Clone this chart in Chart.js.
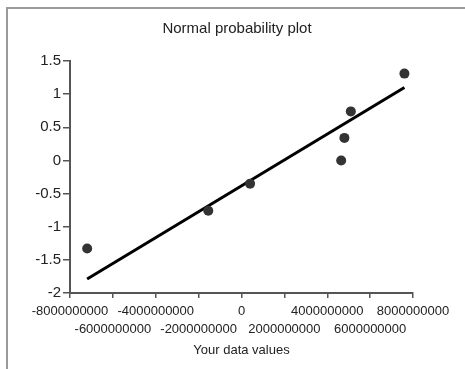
<!DOCTYPE html>
<html>
<head>
<meta charset="utf-8">
<script src="https://cdn.jsdelivr.net/npm/chart.js@4"></script>
<style>
  html, body { margin: 0; padding: 0; background: #fff; }
</style>
</head>
<body>
<canvas id="myChart" width="465" height="369"></canvas>
<script>
// valores
const dataX = [-7200000000, -1550000000, 400000000, 4650000000, 4800000000, 5100000000, 7600000000];
const normalScores = [-1.33, -0.76, -0.35, 0, 0.34, 0.74, 1.31];

// recta de ajuste (extremos)
const fitX = [-7200000000, 7600000000];
const fitY = [-1.79, 1.10];

// ticks
const xTicks = [-8000000000, -6000000000, -4000000000, -2000000000, 0, 2000000000, 4000000000, 6000000000, 8000000000];
const yTicks = [-2, -1.5, -1, -0.5, 0, 0.5, 1, 1.5];

const fontFamily = '"Liberation Sans", Arial, sans-serif';
const textColor = '#222';
const axisColor = '#555';

// marco gris arriba y a la izquierda
const frame = {
  id: 'frame',
  beforeDraw(chart) {
    const c = chart.ctx;
    c.save();
    c.fillStyle = '#fff';
    c.fillRect(0, 0, chart.width, chart.height);
    c.strokeStyle = '#9a9a9a';
    c.lineWidth = 2;
    c.beginPath();
    c.moveTo(7, chart.height);
    c.lineTo(7, 8);
    c.lineTo(chart.width, 8);
    c.stroke();
    c.restore();
  }
};

const ctx = document.getElementById('myChart');

new Chart(ctx, {
  type: 'scatter',
  data: {
    datasets: [
      {
        label: 'Fit',
        data: fitX.map((x, i) => ({x: x, y: fitY[i]})),
        showLine: true,
        borderColor: '#000',
        borderWidth: 3,
        pointRadius: 0,
        order: 2
      },
      {
        label: 'Data',
        data: dataX.map((x, i) => ({x: x, y: normalScores[i]})),
        backgroundColor: '#333',
        borderWidth: 0,
        pointRadius: 5,
        order: 1
      }
    ]
  },
  options: {
    responsive: false,
    animation: false,
    layout: { padding: { left: 9, right: 0, top: 0, bottom: 0 } },
    plugins: {
      legend: { display: false },
      tooltip: { enabled: false },
      title: {
        display: true,
        text: 'Normal probability plot',
        color: textColor,
        font: { family: fontFamily, size: 15, weight: 'normal' },
        padding: { top: 20, bottom: 23 }
      }
    },
    scales: {
      x: {
        type: 'linear',
        min: xTicks[0],
        max: xTicks[xTicks.length - 1],
        afterBuildTicks: (scale) => { scale.ticks = xTicks.map(v => ({value: v})); },
        afterFit: (scale) => { scale.height = 76; scale.paddingRight = 52; scale.paddingLeft = 0; },
        grid: { drawOnChartArea: false, drawTicks: true, tickLength: 5, color: axisColor, lineWidth: 1.5 },
        border: { display: true, color: axisColor, width: 2 },
        ticks: {
          autoSkip: false,
          maxRotation: 0,
          minRotation: 0,
          padding: 4,
          color: textColor,
          font: { family: fontFamily, size: 13, lineHeight: '18px' },
          callback: (value, index) => index % 2 === 0 ? [String(value), ''] : ['', String(value)]
        },
        title: {
          display: true,
          text: 'Your data values',
          color: textColor,
          font: { family: fontFamily, size: 13 },
          padding: { top: 0, bottom: 11 }
        }
      },
      y: {
        type: 'linear',
        min: yTicks[0],
        max: yTicks[yTicks.length - 1],
        afterBuildTicks: (scale) => { scale.ticks = yTicks.map(v => ({value: v})); },
        afterFit: (scale) => { scale.width = 61; },
        grid: { drawOnChartArea: false, drawTicks: true, tickLength: 7, color: axisColor, lineWidth: 1.5 },
        border: { display: true, color: axisColor, width: 2 },
        ticks: {
          padding: 2,
          color: textColor,
          font: { family: fontFamily, size: 15 },
          callback: (value) => String(value)
        }
      }
    }
  },
  plugins: [frame]
});
</script>
</body>
</html>
